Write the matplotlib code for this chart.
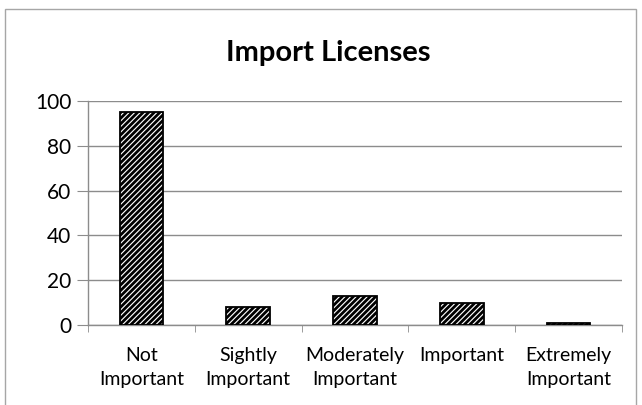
import matplotlib
matplotlib.use("Agg")
import matplotlib.pyplot as plt
from matplotlib.patches import Rectangle

categories = ["Not\nImportant", "Sightly\nImportant", "Moderately\nImportant",
              "Important", "Extremely\nImportant"]
values = [95, 8, 13, 10, 1]
y_ticks = [0, 20, 40, 60, 80, 100]

plt.rcParams["font.family"] = ["Lato", "DejaVu Sans"]
plt.rcParams["hatch.linewidth"] = 2.0
plt.rcParams["hatch.color"] = "black"

fig = plt.figure(figsize=(6.42, 4.05), dpi=100)
W, H = 642, 405

# chart frame
fig.patches.append(Rectangle((5 / W, -0.1), (636 - 5) / W, (H - 9) / H + 0.1,
                             transform=fig.transFigure, fill=False,
                             edgecolor="#a6a6a6", linewidth=1.0))

ax = fig.add_axes([88 / W, 1 - 325 / H, (622 - 88) / W, (325 - 101) / H])
x = list(range(len(categories)))
ax.bar(x, values, width=0.41, color="white", edgecolor="black",
       linewidth=1.3, hatch="//////", zorder=3)

ax.set_xlim(-0.5, len(categories) - 0.5)
ax.set_ylim(0, 100)
ax.set_yticks(y_ticks)
ax.yaxis.grid(True, color="#8c8c8c", linewidth=1.0, zorder=0)
ax.tick_params(axis="y", length=8, color="#8c8c8c", labelsize=15, pad=4,
               labelcolor="black")

ax.set_xticks(x)
ax.set_xticklabels(categories, fontsize=14, linespacing=1.45)
ax.tick_params(axis="x", which="major", length=0, pad=16)
ax.set_xticks([i - 0.5 for i in range(len(categories) + 1)], minor=True)
ax.tick_params(axis="x", which="minor", length=5, color="#8c8c8c")
for lbl in ax.get_xticklabels():
    lbl.set_verticalalignment("top")

for side in ("top", "right"):
    ax.spines[side].set_visible(False)
for side in ("left", "bottom"):
    ax.spines[side].set_color("#8c8c8c")
    ax.spines[side].set_linewidth(1.0)

fig.text(328 / W, 1 - 53 / H, "Import Licenses", ha="center", va="center",
         fontsize=21, fontweight="bold")

fig.savefig("out.png", dpi=100)
